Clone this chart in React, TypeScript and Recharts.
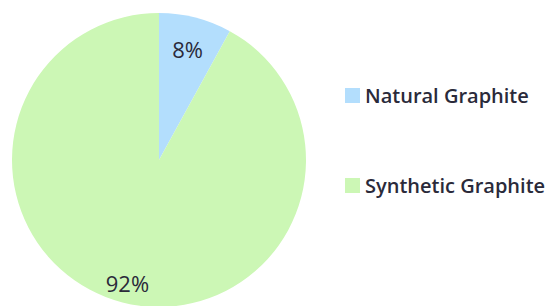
import React from 'react';
import { PieChart, Pie, Cell, Legend } from 'recharts';

const categories = ['Natural Graphite', 'Synthetic Graphite'];
const shares = [8, 92];
const colors = ['#b3defd', '#ccf7b5'];

const data = categories.map((name, i) => ({ name, value: shares[i] }));

const RAD = Math.PI / 180;

const renderLabel = (props: any) => {
  const { cx, cy, midAngle, index, value } = props;
  const r = index === 0 ? 115 : 127;
  const x = cx + r * Math.cos(-midAngle * RAD);
  const y = cy + r * Math.sin(-midAngle * RAD);
  return (
    <text
      x={x}
      y={y}
      textAnchor="middle"
      dominantBaseline="central"
      fill="#2a2a3a"
      fontFamily="'Open Sans', sans-serif"
      fontSize={22}
    >
      {`${value}%`}
    </text>
  );
};

const renderLegend = (props: any) => {
  const { payload } = props;
  return (
    <div style={{ fontFamily: "'Open Sans', sans-serif", fontSize: 20, fontWeight: 600, color: '#2a2a3a' }}>
      {payload.map((entry: any, i: number) => (
        <div
          key={i}
          style={{ display: 'flex', alignItems: 'center', height: 30, marginBottom: i === 0 ? 60 : 0, whiteSpace: 'nowrap' }}
        >
          <span style={{ display: 'inline-block', width: 15, height: 15, background: entry.color, marginRight: 5 }} />
          <span>{entry.value}</span>
        </div>
      ))}
    </div>
  );
};

export default function App() {
  return (
    <div style={{ position: 'absolute', left: 0, top: 0, width: 551, height: 306, background: '#fff' }}>
      <PieChart width={551} height={306} margin={{ top: 0, right: 0, bottom: 0, left: 0 }}>
        <Pie
          data={data}
          dataKey="value"
          nameKey="name"
          cx={159}
          cy={160}
          outerRadius={147}
          startAngle={90}
          endAngle={-270}
          stroke="none"
          label={renderLabel}
          labelLine={false}
          isAnimationActive={false}
        >
          {data.map((d, i) => (
            <Cell key={d.name} fill={colors[i]} />
          ))}
        </Pie>
        <Legend
          layout="vertical"
          content={renderLegend}
          wrapperStyle={{ position: 'absolute', left: 345, top: 80, width: 210 }}
        />
      </PieChart>
    </div>
  );
}
